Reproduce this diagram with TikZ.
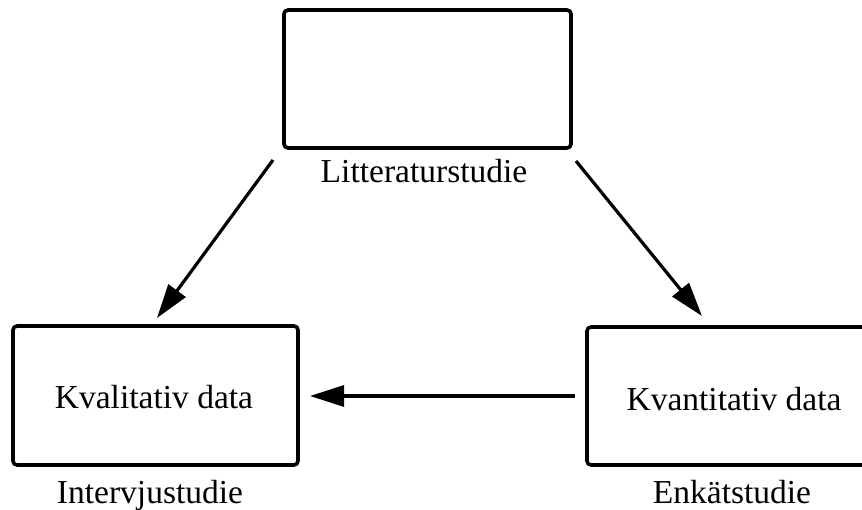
\documentclass[tikz,border=0pt]{standalone}
\usepackage{fontspec}
\setmainfont{Liberation Serif}
\usetikzlibrary{arrows.meta}
\begin{document}
\begin{tikzpicture}[x=1pt,y=-1pt,
  box/.style={draw, line width=3.6pt, rounded corners=4pt, inner sep=0pt},
  lbl/.style={font=\fontsize{33.5}{40}\selectfont, inner sep=0pt, anchor=base},
  arr/.style={line width=3.2pt, -{Triangle[length=34pt,width=21pt]}}]
\useasboundingbox (0,0) rectangle (862,510);
\clip (0,0) rectangle (862,510);
\node[box, minimum width=287pt, minimum height=138pt] (lit) at (427.5,79) {};
\node[lbl] (litl) at (424,183) {Litteraturstudie};
\node[box, minimum width=285pt, minimum height=139pt] (kval) at (155.5,395.5) {};
\node[lbl] (kvalt) at (154,408) {Kvalitativ data};
\node[lbl] (kvall) at (150,503) {Intervjustudie};
\node[box, minimum width=283pt, minimum height=138pt] (kvan) at (728.5,396) {};
\node[lbl] (kvant) at (734,410) {Kvantitativ data};
\node[lbl] (kvanl) at (732,503) {Enkätstudie};
\coordinate (a1s) at (273,160);
\coordinate (a1e) at (157,318);
\coordinate (a2s) at (576,161);
\coordinate (a2e) at (702,316);
\coordinate (a3s) at (575,396);
\coordinate (a3e) at (310,396);
\draw[arr] (a1s) -- (a1e);
\draw[arr] (a2s) -- (a2e);
\draw[arr] (a3s) -- (a3e);
\end{tikzpicture}
\end{document}
